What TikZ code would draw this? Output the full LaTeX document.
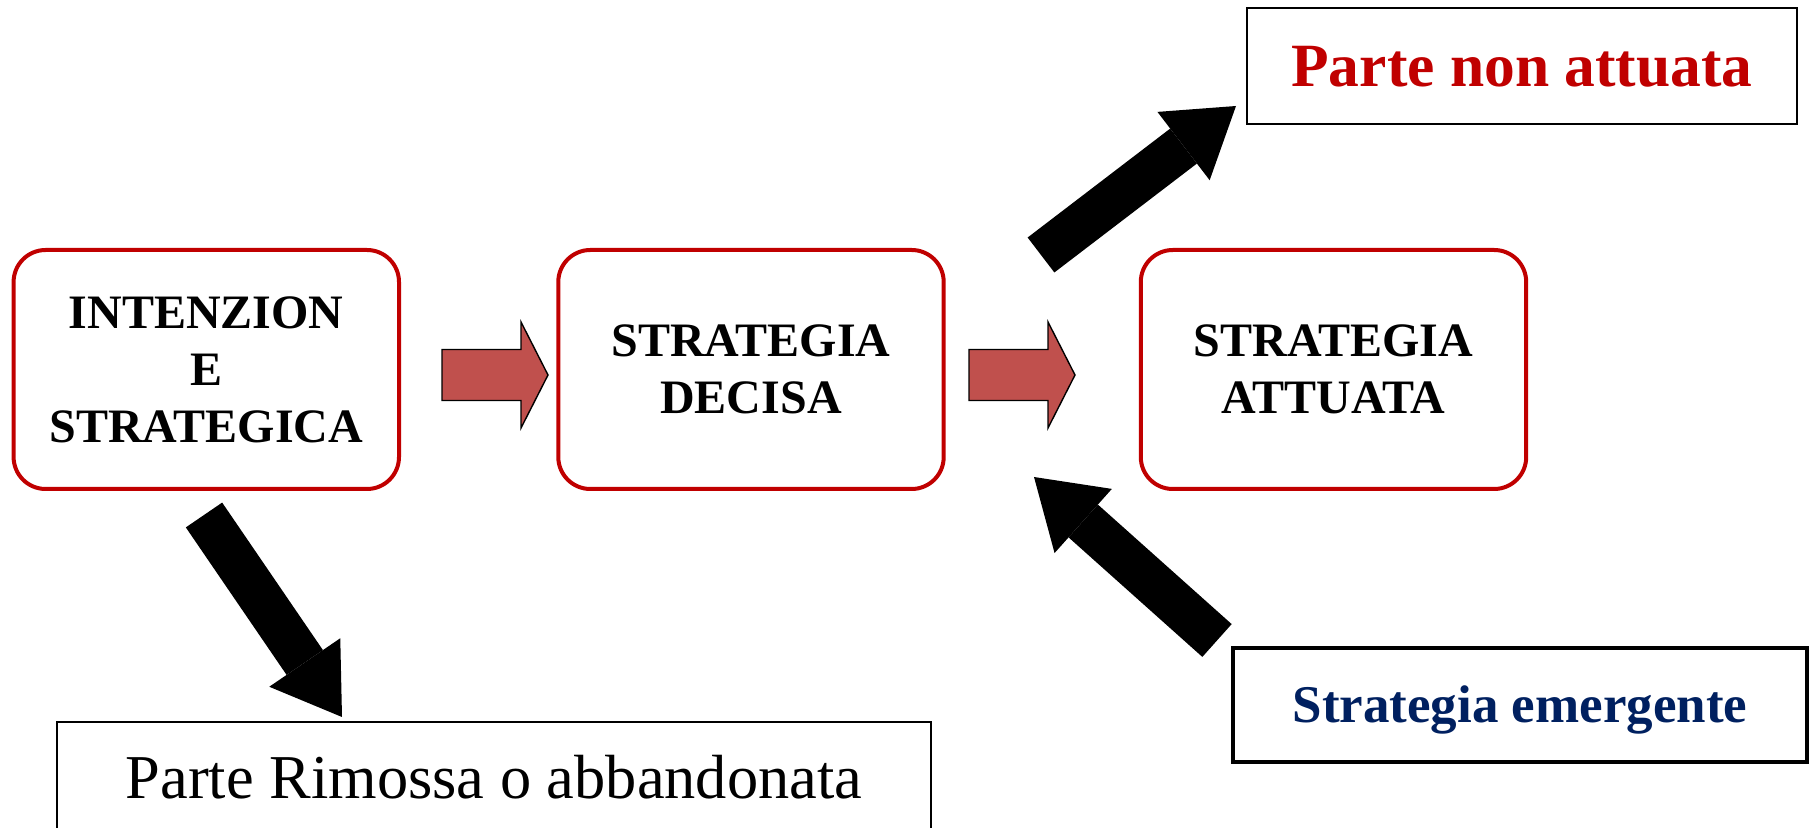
\documentclass[tikz,border=0pt]{standalone}
\usepackage{fontspec}
\setmainfont{Liberation Serif}
\usetikzlibrary{arrows.meta}
\definecolor{boxred}{HTML}{C00000}
\definecolor{arrred}{HTML}{C0504D}
\definecolor{navy}{HTML}{002060}
\begin{document}
\begin{tikzpicture}[x=0.5pt,y=-0.5pt,
    stage/.style={draw=boxred,line width=2pt,rounded corners=16pt,
      minimum width=192.7pt,minimum height=119.5pt,align=center,
      font=\fontsize{24pt}{28.5pt}\selectfont\bfseries},
    part/.style={draw,line width=1pt,text depth=0pt},
    bigarrow/.style={line width=22pt,-{Triangle[width=43pt,length=33pt,line width=0pt]}},
    redarrow/.pic={\draw[fill=arrred,line width=0.7pt,line join=miter]
      (0,-25.5) -- (79,-25.5) -- (79,-53) -- (106,0) -- (79,53) -- (79,25.5) -- (0,25.5) -- cycle;}]
\useasboundingbox (0,0) rectangle (1812,828);
% the three stages
\node[stage] (intent) at (206.3,369.5) {INTENZION\\E\\STRATEGICA};
\node[stage] (decided) at (751,369.5) {STRATEGIA\\DECISA};
\node[stage] (realized) at (1333.5,369.5) {STRATEGIA\\ATTUATA};
\pic at (442,375) {redarrow};
\pic at (969,375) {redarrow};
% side boxes
\node[part,minimum width=274.8pt,minimum height=57.9pt,text height=20.3pt,text=boxred,
  font=\fontsize{30.75pt}{34pt}\selectfont\bfseries] (unreal) at (1522,66) {Parte non attuata};
\node[part,line width=2pt,minimum width=286.8pt,minimum height=57.2pt,text height=17.5pt,text=navy,
  font=\fontsize{26.5pt}{30pt}\selectfont\bfseries] (emerg) at (1520,705) {Strategia emergente};
\node[part,minimum width=437pt,minimum height=56pt,text height=20.6pt,
  font=\fontsize{31.2pt}{34pt}\selectfont] (dropped) at (494,778) {Parte Rimossa o abbandonata};
% black arrows
\coordinate (unrealT) at (1041,255);
\coordinate (unrealH) at (1236,106);
\coordinate (emergT) at (1217,640.5);
\coordinate (emergH) at (1034,477);
\coordinate (droppedT) at (204,515);
\coordinate (droppedH) at (342,717);
\draw[bigarrow] (unrealT) -- (unrealH);
\draw[bigarrow] (emergT) -- (emergH);
\draw[bigarrow] (droppedT) -- (droppedH);
\end{tikzpicture}
\end{document}
